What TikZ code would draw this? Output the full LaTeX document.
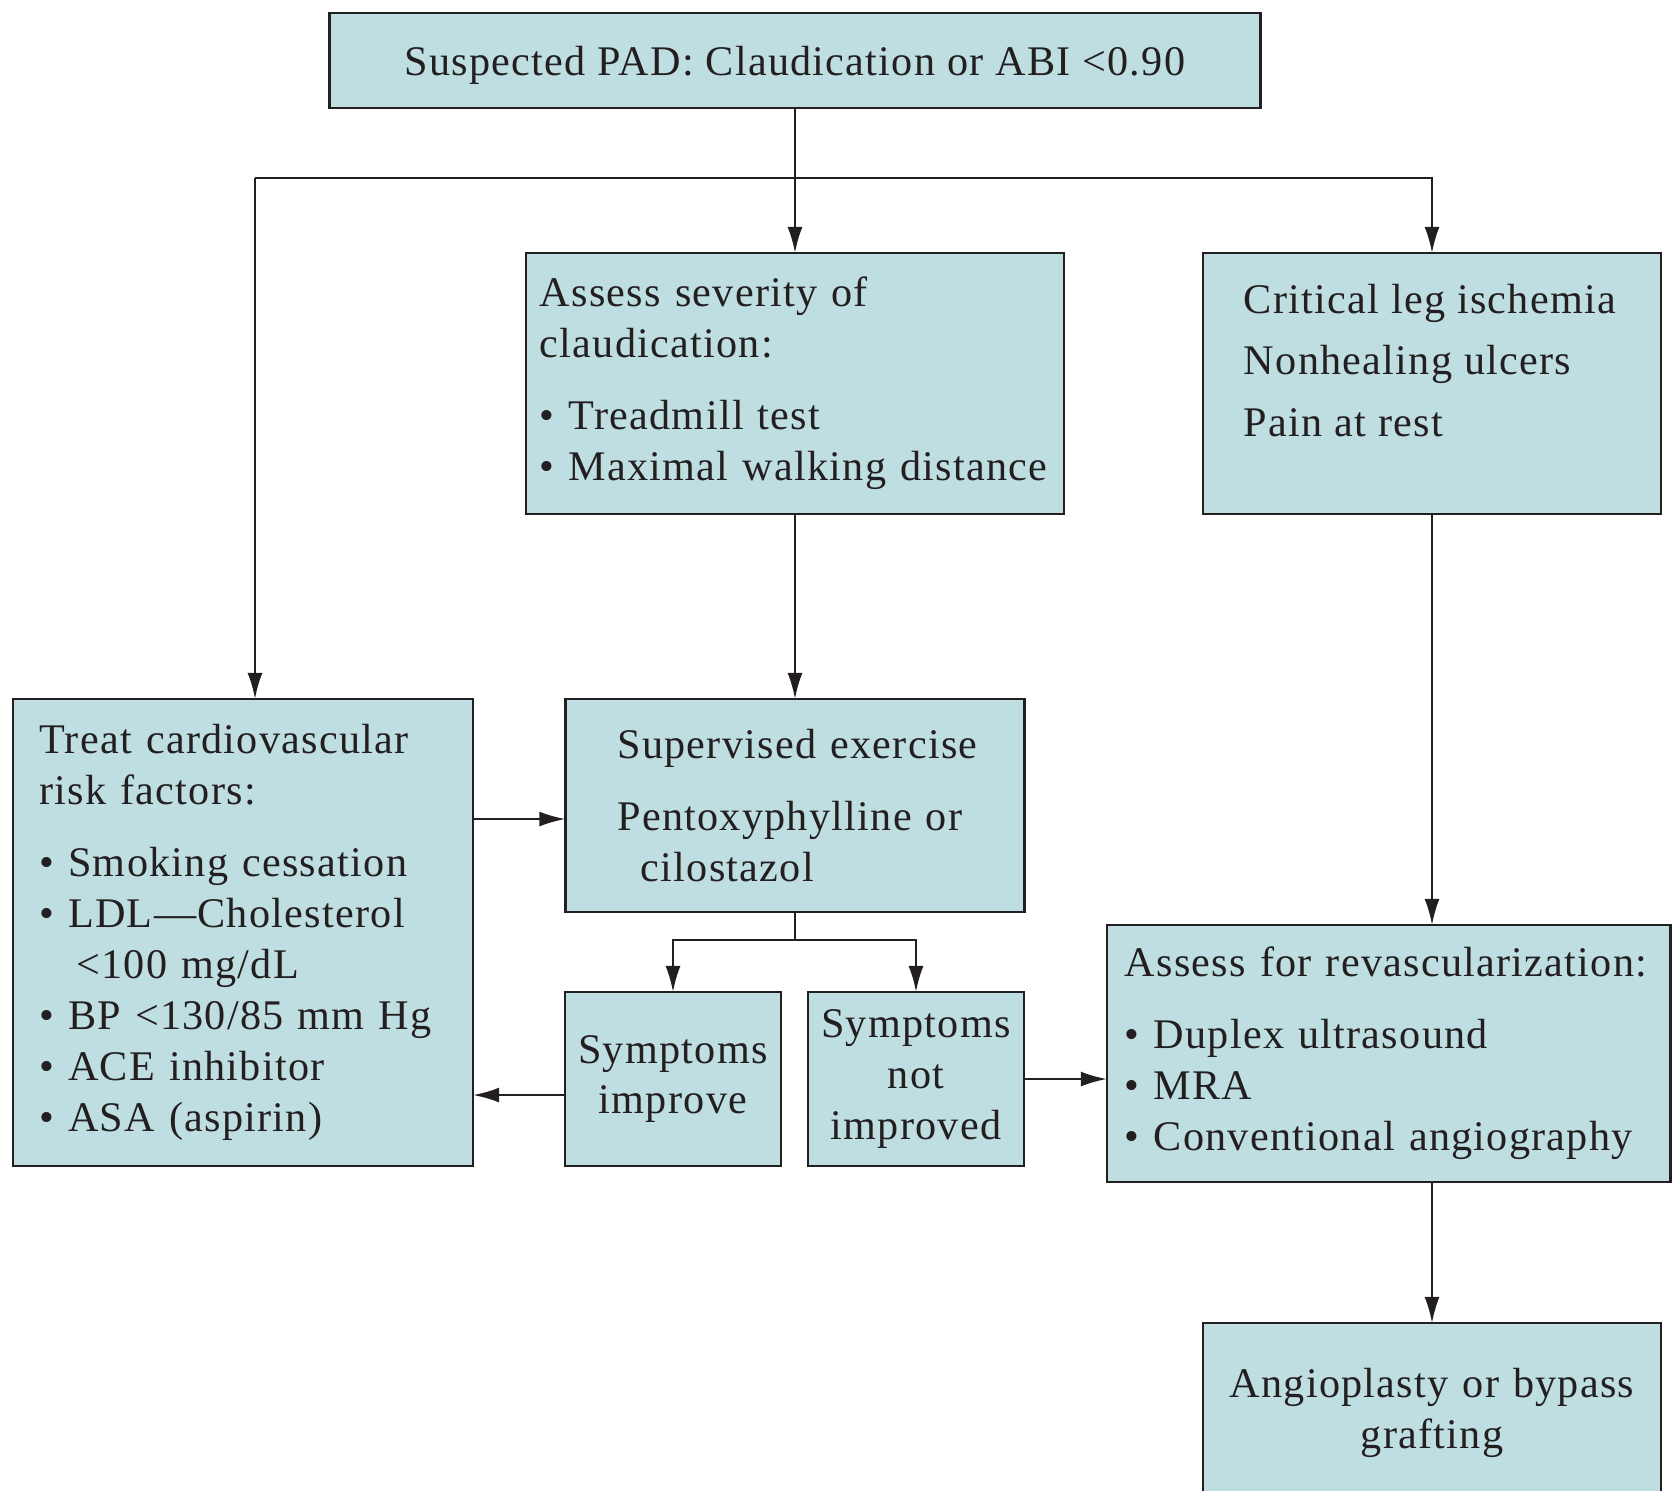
\documentclass[tikz,border=0pt]{standalone}
\usepackage{fontspec}
\setmainfont{Liberation Serif}[LetterSpace=3]
\usetikzlibrary{arrows.meta}

\definecolor{boxfill}{RGB}{191,222,225}
\definecolor{ink}{RGB}{35,31,32}

\begin{document}
\begin{tikzpicture}[x=0.01cm, y=-0.01cm, color=ink, line width=0.6pt,
    font=\fontsize{12}{14.5}\selectfont,
    >={Latex[length=2.6mm, width=1.5mm]},
    box/.style={draw=ink, line width=0.75pt, fill=boxfill, text=ink,
        inner xsep=0.05cm, inner ysep=0pt, outer sep=0pt},
    tbox/.style={box, align=left, execute at begin node={\leftskip=#1}},
    cbox/.style={box, align=center}]

    % ==========================================
    % 1. Pagina (margini del riferimento)
    % ==========================================
    \useasboundingbox (0,0) rectangle (1673,1490);

    % ==========================================
    % 2. Riquadri
    % ==========================================
    \node[cbox, text depth=0pt, minimum width=9.31cm, minimum height=0.95cm] (sus) at (795,60.5)
        {Suspected PAD: Claudication or ABI <0.90};

    \node[tbox=0.09cm, text width=5.28cm, minimum height=2.61cm] (sev) at (795,383.5)
        {Assess severity of\\claudication:\\[6pt]%
         \textbullet~Treadmill test\\\textbullet~Maximal walking distance};

    % riquadro vuoto + testo in alto a sinistra
    \node[box, minimum width=4.58cm, minimum height=2.61cm] (crit) at (1432,383.5) {};
    \node[anchor=north west, align=left, inner xsep=0.4cm, inner ysep=0.3cm] (crittxt)
        at (crit.north west)
        {Critical leg ischemia\\[3pt]Nonhealing ulcers\\[3pt]Pain at rest};

    \node[tbox=0.215cm, text width=4.5cm, minimum height=4.67cm] (treat) at (243,932.5)
        {Treat cardiovascular\\risk factors:\\[6pt]%
         \textbullet~Smoking cessation\\
         \textbullet~LDL—Cholesterol\\
         \hspace*{0.37cm}<100 mg/dL\\
         \textbullet~BP <130/85 mm Hg\\
         \textbullet~ACE inhibitor\\
         \textbullet~ASA (aspirin)};

    \node[tbox=0.47cm, text width=4.49cm, minimum height=2.13cm] (sup) at (795,805.5)
        {Supervised exercise\\[6pt]Pentoxyphylline or\\\hspace*{0.235cm}cilostazol};

    \node[cbox, text width=2.06cm, minimum height=1.74cm] (impr) at (673,1079)
        {Symptoms\\improve};
    \node[cbox, text width=2.06cm, minimum height=1.74cm] (notimpr) at (916,1079)
        {Symptoms\\not\\improved};

    \node[tbox=0.13cm, text width=5.53cm, minimum height=2.57cm] (revasc) at (1388.5,1053.5)
        {Assess for revascularization:\\[6pt]%
         \textbullet~Duplex ultrasound\\\textbullet~MRA\\\textbullet~Conventional angiography};

    \node[cbox, text width=4.48cm, minimum height=1.8cm] (angio) at (1432,1413)
        {Angioplasty or bypass\\grafting};

    % ==========================================
    % 3. Collegamenti
    % ==========================================
    \coordinate (lft) at (255,178);              % ramo sinistro
    \coordinate (tx) at ([yshift=-1.35mm]sup.west); % freccia verso l'esercizio
    \coordinate (ix) at ([yshift=-1.6mm]impr.west);  % ritorno ai fattori di rischio
    \coordinate (fork) at ([yshift=-2.8mm]sup.south);

    \draw[->] (sus.south) -- (sev.north);
    \draw[->] (lft) -| (crit.north);
    \draw[->] (lft) -- (lft |- treat.north);

    \draw[->] (sev.south) -- (sup.north);
    \draw[->] (crit.south) -- (crit.south |- revasc.north);
    \draw[->] (angio.north |- revasc.south) -- (angio.north);

    \draw[->] (tx -| treat.east) -- (tx);
    \draw (sup.south) -- (fork);
    \draw[->] (fork) -| (impr.north);
    \draw[->] (fork) -| (notimpr.north);

    \draw[->] (ix) -- (ix -| treat.east);
    \draw[->] (notimpr.east) -- (notimpr.east -| revasc.west);

\end{tikzpicture}
\end{document}
